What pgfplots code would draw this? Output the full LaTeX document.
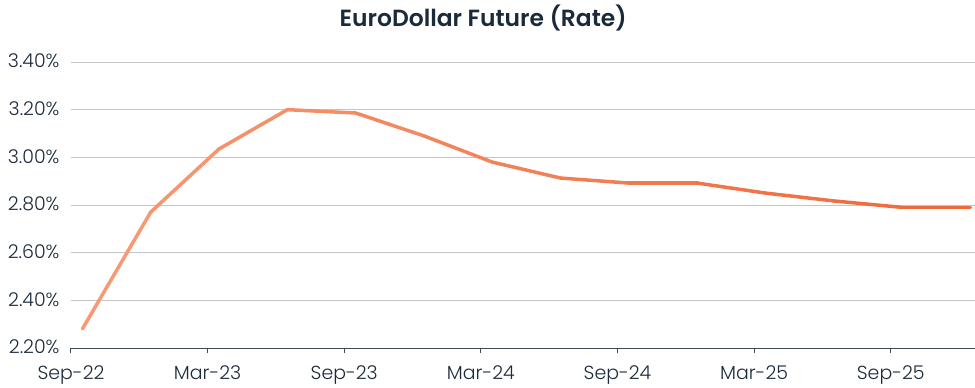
\documentclass[border=0pt]{standalone}
\usepackage{pgfplots}
\pgfplotsset{compat=1.18}
\usepackage{fontspec}
\setmainfont{Poppins}[UprightFont={* Light}, BoldFont={* SemiBold}]
\definecolor{txt}{HTML}{1B2A3A}
\definecolor{gridc}{HTML}{C4C5CB}
\definecolor{axc}{HTML}{3D4A55}
\begin{document}
\begin{tikzpicture}
\path[use as bounding box] (-71bp,-40bp) rectangle (904bp,348bp);
\begin{axis}[
  scale only axis,
  width=904bp, height=286bp,
  at={(0,0)}, anchor=south west,
  xmin=0, xmax=39.7,
  ymin=2.2, ymax=3.4,
  axis x line*=bottom,
  axis y line*=left,
  y axis line style={draw=none},
  x axis line style={axc, line width=1bp},
  xtick={0,6,12,18,24,30,36},
  xticklabels={Sep-22,Mar-23,Sep-23,Mar-24,Sep-24,Mar-25,Sep-25},
  ytick={2.2,2.4,2.6,2.8,3.0,3.2,3.4},
  ymajorgrids,
  grid style={gridc, line width=0.8bp},
  major tick length=5bp,
  tick align=outside,
  xtick style={axc, line width=1bp},
  ytick style={draw=none},
  /pgf/number format/assume math mode=true,
  yticklabel={\pgfmathprintnumber[fixed,fixed zerofill,precision=2]{\tick}\%},
  yticklabel style={anchor=east, xshift=-3bp, yshift=1bp},
  ticklabel style={font=\fontsize{19}{22}\selectfont, text=txt},
  xticklabel style={yshift=-9bp},
  title={\textbf{EuroDollar Future (Rate)}},
  title style={font=\fontsize{23.5}{27}\selectfont, text=txt, at={(0.456,1)}, anchor=south, yshift=21bp},
  clip=false,
]
\addplot[mesh, point meta=x, line width=3.5bp, line join=round, line cap=round,
  colormap={sal}{rgb255=(247,155,118) rgb255=(238,104,58)}]
coordinates {
(0.5,2.28) (3.5,2.77) (6.5,3.035) (9.5,3.20) (12.5,3.186) (15.5,3.09)
(18.5,2.98) (21.5,2.913) (24.5,2.892) (27.5,2.892) (30.5,2.85) (33.5,2.817)
(36.5,2.79) (39.5,2.79)
};
\end{axis}
\end{tikzpicture}
\end{document}
